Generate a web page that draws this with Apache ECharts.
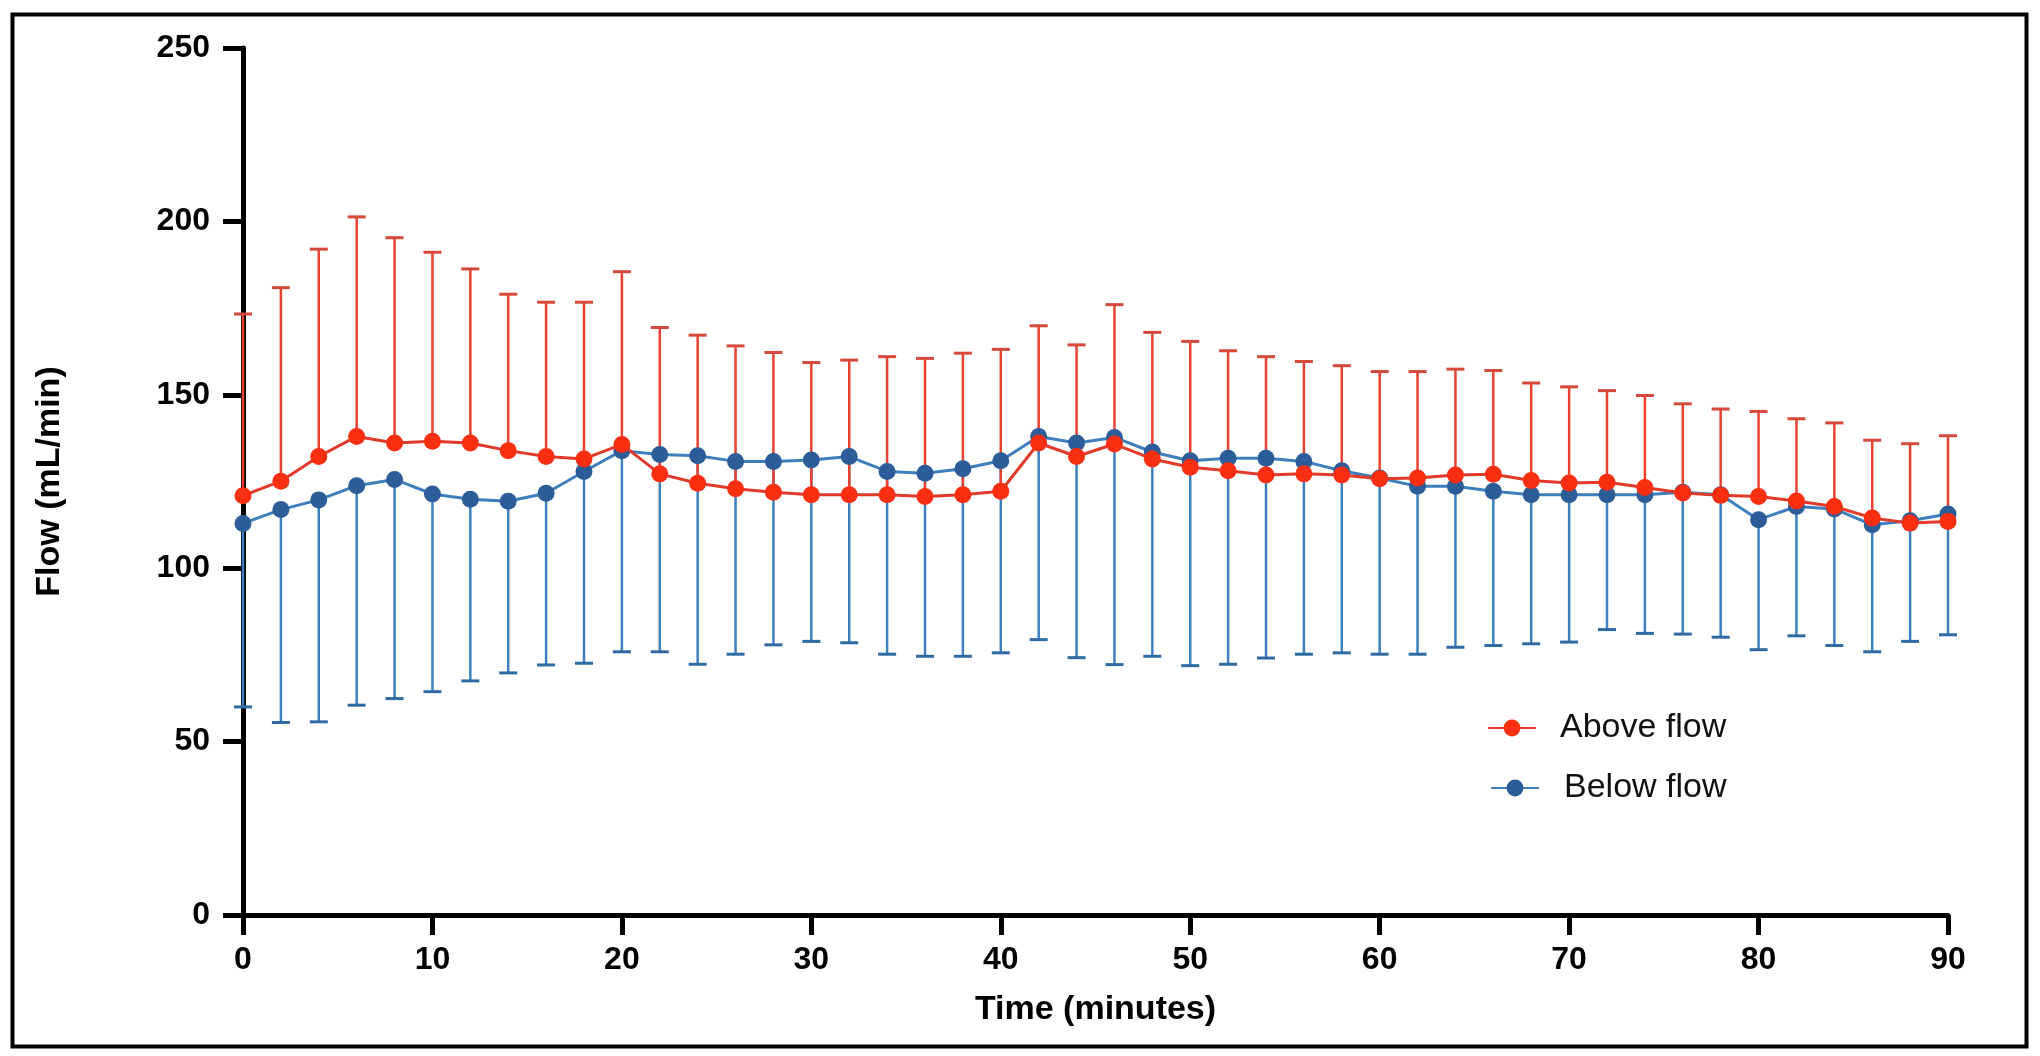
<!DOCTYPE html>
<html>
<head>
<meta charset="utf-8">
<script src="https://cdn.jsdelivr.net/npm/echarts@6/dist/echarts.min.js"></script>
<style>
html,body{margin:0;padding:0;background:#fff;}
#chart{width:2040px;height:1056px;}
</style>
</head>
<body>
<div id="chart"></div>
<script>
const time = [0,2,4,6,8,10,12,14,16,18,20,22,24,26,28,30,32,34,36,38,40,42,44,46,48,50,52,54,56,58,60,62,64,66,68,70,72,74,76,78,80,82,84,86,88,90];
const aboveMean = [120.9,125.1,132.2,138.0,136.1,136.6,136.1,133.9,132.2,131.5,135.7,127.2,124.5,122.9,121.9,121.2,121.2,121.2,120.7,121.2,122.2,136.1,132.2,135.8,131.5,129.1,128.1,126.9,127.2,126.9,125.8,126.0,126.9,127.1,125.3,124.6,124.8,123.3,121.7,121.0,120.7,119.4,117.8,114.5,113.0,113.5];
const aboveUpper = [173.3,180.9,192.0,201.3,195.3,191.1,186.3,179.0,176.7,176.7,185.5,169.4,167.2,164.1,162.2,159.3,160.0,161.0,160.5,162.0,163.1,169.9,164.4,176.0,168.0,165.4,162.7,161.0,159.6,158.4,156.7,156.7,157.4,157.0,153.4,152.3,151.2,149.8,147.4,145.9,145.2,143.1,141.9,136.9,135.9,138.2];
const belowMean = [112.9,116.9,119.7,123.8,125.6,121.4,119.9,119.3,121.6,127.9,133.9,132.8,132.4,130.8,130.8,131.2,132.2,127.9,127.4,128.7,131.0,138.0,136.1,137.7,133.5,131.0,131.7,131.7,130.8,128.1,126.0,123.6,123.6,122.2,121.2,121.2,121.2,121.2,121.9,121.2,114.0,117.8,117.1,112.5,113.7,115.6];
const belowLower = [60.0,55.5,55.7,60.5,62.4,64.4,67.5,69.8,72.1,72.6,75.9,75.9,72.3,75.2,77.9,78.9,78.5,75.2,74.6,74.6,75.6,79.4,74.2,72.2,74.6,71.9,72.3,74.1,75.2,75.6,75.2,75.2,77.2,77.7,78.2,78.7,82.3,81.2,81.0,80.1,76.5,80.5,77.7,75.9,78.9,80.8];
const seriesNames = ['Above flow', 'Below flow'];
const xTicks = [0,10,20,30,40,50,60,70,80,90];
const yTicks = [0,50,100,150,200,250];

const FONT = '"Liberation Sans", Arial, Helvetica, sans-serif';

function errRender(color, capColor) {
  return function (params, api) {
    const x = api.value(0), m = api.value(1), e = api.value(2);
    const p0 = api.coord([x, m]);
    const p1 = api.coord([x, e]);
    const hw = 9;
    return {
      type: 'group',
      children: [
        {type: 'line', shape: {x1: p0[0], y1: p0[1], x2: p1[0], y2: p1[1]}, style: {stroke: color, lineWidth: 2.5}},
        {type: 'line', shape: {x1: p1[0] - hw, y1: p1[1], x2: p1[0] + hw, y2: p1[1]}, style: {stroke: capColor, lineWidth: 3}}
      ]
    };
  };
}

const chart = echarts.init(document.getElementById('chart'), null, {renderer: 'canvas'});
const option = {
  backgroundColor: '#ffffff',
  animation: false,
  graphic: [{
    type: 'rect', left: 10, top: 12, z: 100, silent: true,
    shape: {width: 2014, height: 1032},
    style: {fill: 'none', stroke: '#000', lineWidth: 4}
  }],
  grid: {left: 243, right: 92, top: 48, bottom: 141, containLabel: false},
  legend: [
    {
      data: [seriesNames[0]], left: 1487, top: 711, orient: 'vertical', padding: 0,
      itemWidth: 48, itemHeight: 21,
      textStyle: {fontFamily: FONT, fontSize: 34, color: '#111', padding: [0, 0, 0, 19]}
    },
    {
      data: [seriesNames[1]], left: 1490, top: 771, orient: 'vertical', padding: 0,
      itemWidth: 48, itemHeight: 21,
      textStyle: {fontFamily: FONT, fontSize: 34, color: '#111', padding: [0, 0, 0, 20]}
    }
  ],
  xAxis: {
    type: 'value', min: 0, max: 90, interval: 10,
    name: 'Time (minutes)', nameLocation: 'middle', nameGap: 78,
    nameTextStyle: {fontFamily: FONT, fontSize: 34, fontWeight: 'bold', color: '#000'},
    axisLine: {show: true, lineStyle: {color: '#000', width: 5}},
    axisTick: {show: true, length: 20, lineStyle: {color: '#000', width: 5}},
    axisLabel: {
      margin: 29, fontFamily: FONT, fontSize: 32, fontWeight: 'bold', color: '#000',
      formatter: function (v) { return xTicks.indexOf(v) >= 0 ? String(v) : ''; }
    },
    splitLine: {show: false}
  },
  yAxis: {
    type: 'value', min: 0, max: 250, interval: 50,
    name: 'Flow (mL/min)', nameLocation: 'middle', nameGap: 176, nameRotate: 90,
    nameTextStyle: {fontFamily: FONT, fontSize: 34, fontWeight: 'bold', color: '#000'},
    axisLine: {show: true, lineStyle: {color: '#000', width: 5}},
    axisTick: {show: true, length: 20, lineStyle: {color: '#000', width: 5}},
    axisLabel: {
      margin: 33, fontFamily: FONT, fontSize: 32, fontWeight: 'bold', color: '#000',
      formatter: function (v) { return yTicks.indexOf(v) >= 0 ? String(v) : ''; }
    },
    splitLine: {show: false}
  },
  series: [
    {
      name: 'Below flow SD', type: 'custom', z: 2,
      renderItem: errRender('#3d80bf', '#2f6aa3'),
      encode: {x: 0, y: [1, 2]},
      data: time.map((t, i) => [t, belowMean[i], belowLower[i]])
    },
    {
      name: 'Above flow SD', type: 'custom', z: 2,
      renderItem: errRender('#e8412f', '#d4493c'),
      encode: {x: 0, y: [1, 2]},
      data: time.map((t, i) => [t, aboveMean[i], aboveUpper[i]])
    },
    {
      name: seriesNames[1], type: 'line', z: 3,
      symbol: 'circle', symbolSize: 17,
      itemStyle: {color: '#2d5d99'},
      lineStyle: {color: '#3f7fbd', width: 3},
      data: time.map((t, i) => [t, belowMean[i]])
    },
    {
      name: seriesNames[0], type: 'line', z: 4,
      symbol: 'circle', symbolSize: 17,
      itemStyle: {color: '#fa2f12'},
      lineStyle: {color: '#e23a2a', width: 3},
      data: time.map((t, i) => [t, aboveMean[i]])
    }
  ]
};
chart.setOption(option);
</script>
</body>
</html>
